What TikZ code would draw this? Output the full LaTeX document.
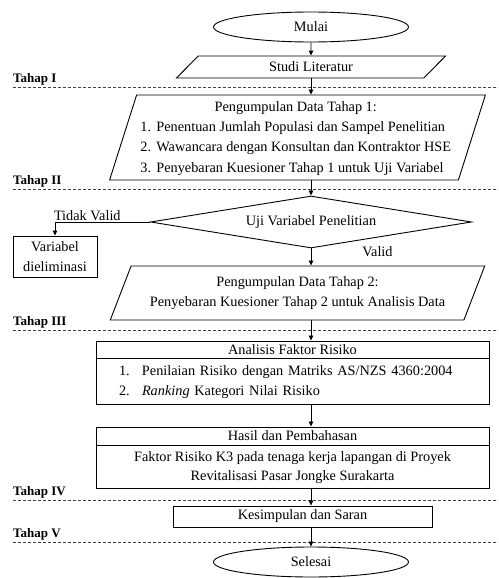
\documentclass[tikz,border=0pt]{standalone}
\usepackage{fontspec}
\setmainfont{Liberation Serif}
\usetikzlibrary{shapes.geometric,arrows.meta}

\begin{document}
\begin{tikzpicture}[
    x=1pt,
    y=-1pt,
    every node/.style={
        font=\fontsize{14.3}{20.3}\selectfont,
        align=center,
        inner sep=0pt
    },
    terminal/.style={
        draw,
        line width=0.9pt,
        ellipse,
        minimum width=195pt,
        minimum height=30pt
    },
    inputoutput/.style={
        draw,
        line width=0.9pt,
        trapezium,
        trapezium stretches=true
    },
    decision/.style={
        draw,
        line width=0.9pt,
        diamond,
        aspect=6.2,
        minimum width=321pt,
        minimum height=52pt
    },
    process/.style={
        draw,
        line width=0.9pt,
        rectangle
    },
    flow/.style={
        -{Triangle[length=5pt,width=4.5pt]},
        line width=0.8pt
    },
    flowlabel/.style={
        inner sep=1pt
    },
    stageline/.style={
        line width=0.7pt,
        dash pattern=on 3pt off 2pt,
        black!75
    },
    stagelabel/.style={
        font=\fontsize{13}{15}\selectfont\bfseries,
        anchor=base west
    }
]

\useasboundingbox (0,0) rectangle (498,578);

% stages
\node[stagelabel] (tahapI) at (13,82) {Tahap I};
\draw[stageline] (13,87) -- (498,87);

\node[stagelabel] (tahapII) at (13,184) {Tahap II};
\draw[stageline] (13,189) -- (498,189);

\node[stagelabel] (tahapIII) at (13,325) {Tahap III};
\draw[stageline] (13,330) -- (498,330);

\node[stagelabel] (tahapIV) at (13,495) {Tahap IV};
\draw[stageline] (13,500) -- (498,500);

\node[stagelabel] (tahapV) at (13,537) {Tahap V};
\draw[stageline] (13,542) -- (498,542);

% flow nodes
\node[terminal] (mulai) at (311,27) {Mulai};

\node[
    inputoutput,
    trapezium left angle=51,
    trapezium right angle=129,
    minimum width=272pt,
    minimum height=22pt
] (studi) at (311,67) {Studi Literatur};

\node[
    inputoutput,
    trapezium left angle=72,
    trapezium right angle=108,
    minimum width=377pt,
    minimum height=85pt
] (datasatu) at (297.5,137.5) {
    \begin{tabular}{@{}l@{}}
    \multicolumn{1}{c}{Pengumpulan Data Tahap 1:}\\
    \makebox[16pt][l]{1.}Penentuan Jumlah Populasi dan Sampel Penelitian\\
    \makebox[16pt][l]{2.}Wawancara dengan Konsultan dan Kontraktor HSE\\
    \makebox[16pt][l]{3.}Penyebaran Kuesioner Tahap 1 untuk Uji Variabel
    \end{tabular}
};

\node[decision] (uji) at (311,222) {Uji Variabel Penelitian};

\node[
    process,
    minimum width=84pt,
    minimum height=41pt
] (variabel) at (55,256.5) {Variabel\\dieliminasi};

\node[
    inputoutput,
    trapezium left angle=61,
    trapezium right angle=119,
    minimum width=375pt,
    minimum height=54pt
] (datadua) at (297.5,293) {
    Pengumpulan Data Tahap 2:\\
    Penyebaran Kuesioner Tahap 2 untuk Analisis Data
};

\node[
    process,
    minimum width=393pt,
    minimum height=17pt
] (analisis) at (292.5,349.5) {Analisis Faktor Risiko};

\node[
    process,
    anchor=north,
    minimum height=46pt,
    inner xsep=23pt,
    text width=347pt,
    align=left
] (analisisbody) at (analisis.south) {
    \makebox[23pt][l]{1.}Penilaian Risiko dengan Matriks AS/NZS 4360:2004\\
    \makebox[23pt][l]{2.}\textit{Ranking} Kategori Nilai Risiko
};

\node[
    process,
    minimum width=393pt,
    minimum height=18pt
] (hasil) at (292.5,436) {Hasil dan Pembahasan};

\node[
    process,
    anchor=north,
    minimum width=393pt,
    minimum height=43pt,
    font=\fontsize{14.3}{18.5}\selectfont
] (hasilbody) at (hasil.south) {
    Faktor Risiko K3 pada tenaga kerja lapangan di Proyek\\
    Revitalisasi Pasar Jongke Surakarta
};

\node[
    process,
    minimum width=259pt,
    minimum height=21pt
] (kesimpulan) at (302.5,516.5) {Kesimpulan dan Saran};

\node[terminal] (selesai) at (311,562) {Selesai};

% connectors
\draw[flow] (mulai.south) -- (studi.north);

\draw[flow] (studi.south) -- (studi.south |- datasatu.north);

\draw[flow] (datasatu.south -| uji.north) -- (uji.north);

\draw[flow]
    (uji.west)
    -|
    node[flowlabel, above, pos=0.33] {Tidak Valid}
    (variabel.north);

\draw[flow]
    (uji.south)
    --
    node[flowlabel, pos=0.2, right=50pt] {Valid}
    (uji.south |- datadua.north);

\draw[flow] (datadua.south -| uji.south) -- (uji.south |- analisis.north);

\draw[flow] (analisisbody.south -| uji.south) -- (uji.south |- hasil.north);

\draw[flow] (hasilbody.south -| uji.south) -- (uji.south |- kesimpulan.north);

\draw[flow] (kesimpulan.south -| selesai.north) -- (selesai.north);

\end{tikzpicture}
\end{document}
